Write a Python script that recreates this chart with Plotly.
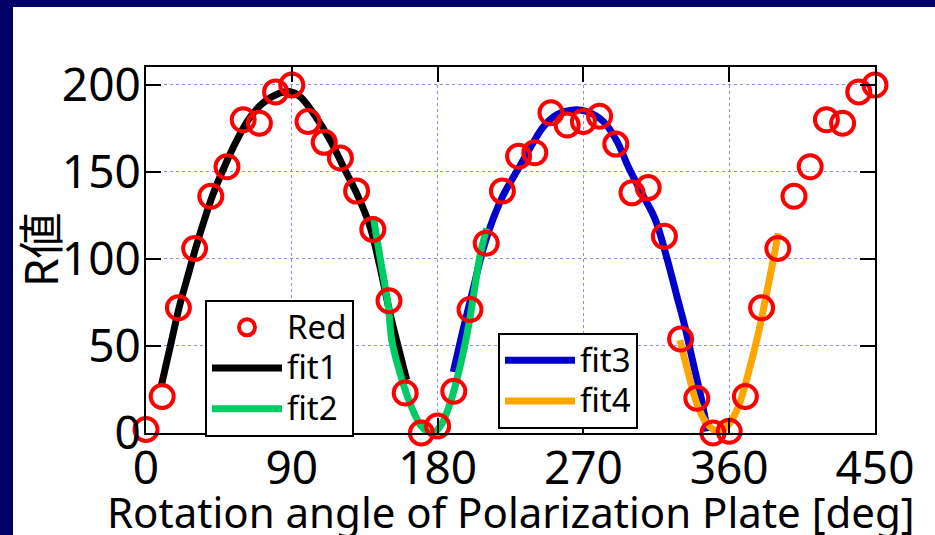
import plotly.graph_objects as go

# ---------------- data ----------------
angle = list(range(0, 460, 10))
red = [2, 21, 72, 106, 136, 153, 180, 178, 196, 200,
       179, 167, 158, 139, 117, 76, 23, 0, 4, 24,
       71, 109, 139, 159, 161, 184, 177, 179, 182, 166,
       138, 141, 113, 54, 20, 0, 1, 21, 72, 106,
       136, 153, 180, 178, 196, 200]

fit1_x = [9.3, 15.4, 20.6, 25.7, 30.9, 36, 41.2, 48.4, 55.6, 63.8, 72, 82.3, 88.5,
          95, 103.3, 113.6, 121.8, 130, 138.3, 144.4, 150.6, 155.7, 160.9]
fit1_y = [26.6, 51.5, 72.6, 89.8, 107, 122.4, 136.8, 153, 167.4, 180.8, 189.5, 195.2, 196.2,
          193.3, 183.7, 168.4, 153, 137.8, 118.6, 95.6, 68.8, 49.6, 30.5]

fit2_x = [140.3, 144.4, 149.6, 151.7, 156.8, 163, 170.2, 176.3, 181.5, 187.7, 193.8,
          199, 203, 206.2, 210.3]
fit2_y = [124.3, 101.3, 72.6, 53.4, 34.3, 17, 3.6, 0, 3.6, 17, 38, 61, 84, 102, 117.6]

fit3_x = [189.7, 195.9, 202, 208.2, 214.4, 220.6, 228.8, 237, 245.3, 253.5, 263.8, 272,
          282.3, 290.5, 297.7, 306, 314.2, 321.4, 327.6, 332.7, 337.8, 343, 346.5]
fit3_y = [35, 60, 83, 106, 123.4, 136.8, 150.2, 163.6, 176, 182.8, 185.6, 184.7,
          179, 168, 153, 137.8, 123, 101, 79, 61, 40, 19, 1]

fit4_x = [329.6, 334.8, 340, 346.1, 353.3, 359.5, 365.6, 371.8, 378, 383.1, 387.2, 390.3]
fit4_y = [53.4, 34.3, 17, 5.6, 0.8, 4.6, 15, 34.3, 57.3, 80.3, 99.4, 114.8]

x_ticks = [0, 90, 180, 270, 360, 450]
y_ticks = [0, 50, 100, 150, 200]

# ---------------- figure ----------------
W, H = 935, 535
L, R, T, B = 146, 875, 67, 433
FONT = "Noto Sans, Noto Sans CJK JP, sans-serif"

def lg(name):
    return "<span style='font-size:33px'>" + name + "</span>"

fig = go.Figure()
lw = 7
fig.add_trace(go.Scatter(x=fit1_x, y=fit1_y, mode="lines", name=lg("fit1"),
                         line=dict(color="#000000", width=lw, shape="spline"),
                         legend="legend", legendrank=2))
fig.add_trace(go.Scatter(x=fit3_x, y=fit3_y, mode="lines", name=lg("fit3"),
                         line=dict(color="#0000cc", width=lw, shape="spline"),
                         legend="legend2", legendrank=1))
fig.add_trace(go.Scatter(x=fit2_x, y=fit2_y, mode="lines", name=lg("fit2"),
                         line=dict(color="#00cc66", width=lw, shape="spline"),
                         legend="legend", legendrank=3))
fig.add_trace(go.Scatter(x=fit4_x, y=fit4_y, mode="lines", name=lg("fit4"),
                         line=dict(color="#ffa500", width=lw, shape="spline"),
                         legend="legend2", legendrank=2))
fig.add_trace(go.Scatter(x=angle, y=red, mode="markers", name=lg("Red"),
                         marker=dict(symbol="circle-open", size=23, color="#ff0000",
                                     line=dict(width=4, color="#ff0000")),
                         cliponaxis=False, legend="legend", legendrank=1))

def px_x(p):
    return (p - L) / (R - L)

def px_y(p):
    return (B - p) / (B - T)

navy = "#000066"
shapes = [
    dict(type="rect", xref="paper", yref="paper", x0=px_x(0), x1=px_x(W), y0=px_y(7), y1=px_y(0),
         fillcolor=navy, line=dict(width=0), layer="above"),
    dict(type="rect", xref="paper", yref="paper", x0=px_x(0), x1=px_x(13), y0=px_y(H), y1=px_y(0),
         fillcolor=navy, line=dict(width=0), layer="above"),
]

axis_common = dict(
    showline=True, linecolor="black", linewidth=2, mirror="ticks",
    ticks="inside", ticklen=15, tickwidth=2, tickcolor="black",
    showgrid=True, gridcolor="#8c8cff", gridwidth=1, griddash="3px,3px",
    zeroline=False, tickfont=dict(family=FONT, size=46, color="black"),
)

legend_common = dict(
    xanchor="left", yanchor="top",
    bgcolor="white", bordercolor="black", borderwidth=2,
    font=dict(family=FONT, size=29, color="black"),
    itemwidth=70, tracegroupgap=0, traceorder="normal",
)

fig.update_layout(
    width=W, height=H,
    margin=dict(l=L, r=W - R, t=T, b=H - B),
    paper_bgcolor="white", plot_bgcolor="white",
    showlegend=True,
    xaxis=dict(range=[0, 450], tickvals=x_ticks, ticklabelstandoff=-6, **axis_common),
    yaxis=dict(range=[0, 210.3], tickvals=y_ticks, ticklabelstandoff=-6, **axis_common),
    legend=dict(x=px_x(205), y=px_y(300), **legend_common),
    legend2=dict(x=px_x(498), y=px_y(333), **legend_common),
    shapes=shapes,
    annotations=[
        dict(text="Rotation angle of Polarization Plate [deg]", xref="paper", yref="paper",
             x=0.5, y=px_y(512), xanchor="center", yanchor="middle", showarrow=False,
             font=dict(family=FONT, size=42, color="black")),
        dict(text="R値", xref="paper", yref="paper", textangle=-90,
             x=px_x(40), y=px_y(250), xanchor="center", yanchor="middle", showarrow=False,
             font=dict(family=FONT, size=46, color="black")),
    ],
)

fig.write_html("out.html")
